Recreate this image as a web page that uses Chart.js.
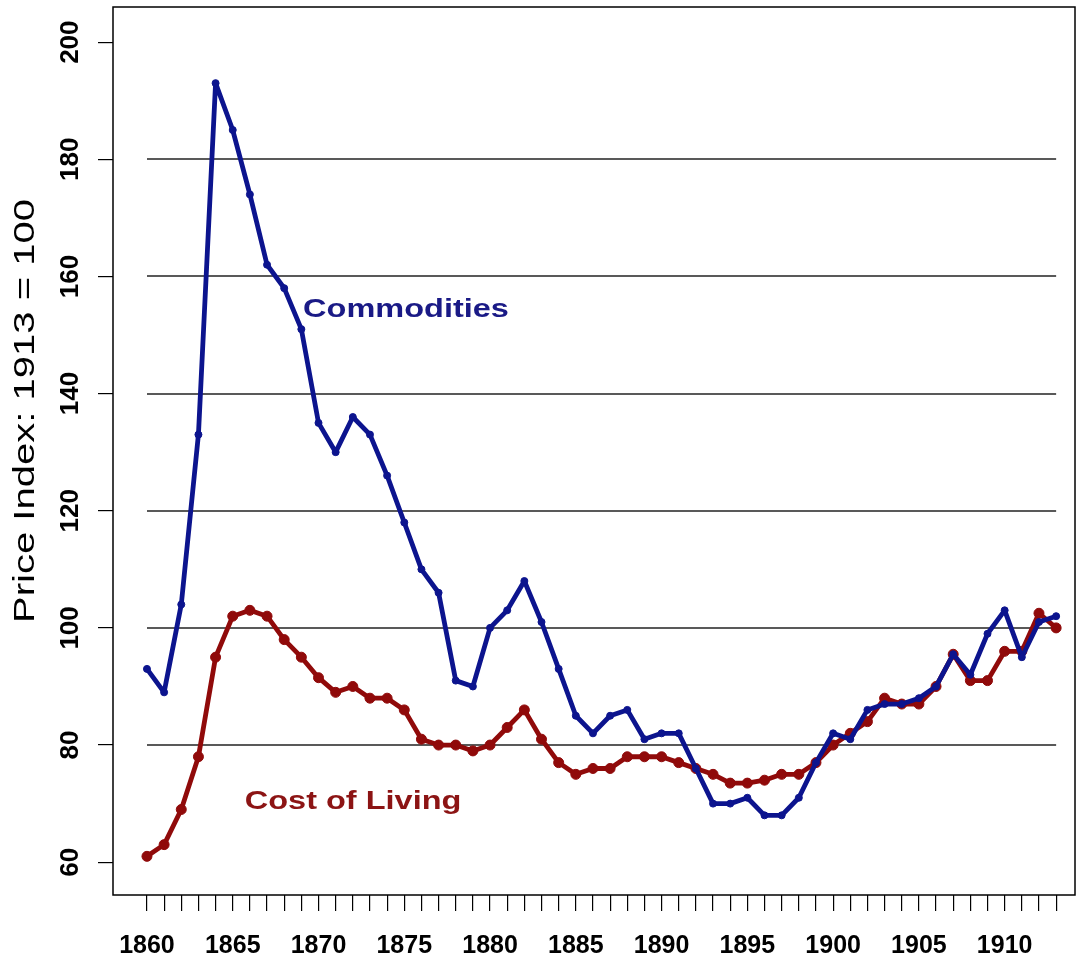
<!DOCTYPE html>
<html>
<head>
<meta charset="utf-8">
<script src="https://cdn.jsdelivr.net/npm/chart.js@4/dist/chart.umd.min.js"></script>
<style>
  html, body { margin: 0; padding: 0; background: #fff; }
  #wrap { position: relative; width: 1086px; height: 965px; }
</style>
</head>
<body>
<div id="wrap"><canvas id="myChart"></canvas></div>
<script>
// years 1860..1913
var years = [];
for (var yr = 1860; yr <= 1913; yr++) years.push(yr);

var commodities = [93, 89, 104, 133, 193, 185, 174, 162, 158, 151,
  135, 130, 136, 133, 126, 118, 110, 106, 91, 90,
  100, 103, 108, 101, 93, 85, 82, 85, 86, 81,
  82, 82, 76, 70, 70, 71, 68, 68, 71, 77,
  82, 81, 86, 87, 87, 88, 90, 95.5, 92, 99,
  103, 95, 101, 102];

var costOfLiving = [61, 63, 69, 78, 95, 102, 103, 102, 98, 95,
  91.5, 89, 90, 88, 88, 86, 81, 80, 80, 79,
  80, 83, 86, 81, 77, 75, 76, 76, 78, 78,
  78, 77, 76, 75, 73.5, 73.5, 74, 75, 75, 77,
  80, 82, 84, 88, 87, 87, 90, 95.5, 91, 91,
  96, 96, 102.5, 100];

var yTicks = [60, 80, 100, 120, 140, 160, 180, 200];
var gridValues = [80, 100, 120, 140, 160, 180];
var xLabelEvery = 5;

var blue = "#0c148e";
var red = "#900a0a";
var fontFam = "'Liberation Sans', Arial, sans-serif";

// labels inside the plot (year, value)
var notes = [
  {text: "Commodities", x: 1869.1, y: 154.3, color: "#1a1a86"},
  {text: "Cost of Living", x: 1865.7, y: 70.3, color: "#8c1414"}
];

var xy = function(arr){
  return arr.map(function(v, i){ return {x: years[i], y: v}; });
};

var decor = {
  id: "decor",
  beforeDatasetsDraw: function(chart){
    var ctx = chart.ctx, a = chart.chartArea, x = chart.scales.x, y = chart.scales.y;
    ctx.save();
    ctx.strokeStyle = "#222";
    ctx.lineWidth = 1.5;
    var x0 = x.getPixelForValue(years[0]);
    var x1 = x.getPixelForValue(years[years.length - 1]);
    gridValues.forEach(function(v){
      var py = Math.round(y.getPixelForValue(v));
      ctx.beginPath();
      ctx.moveTo(x0, py);
      ctx.lineTo(x1, py);
      ctx.stroke();
    });
    ctx.strokeStyle = "#000";
    ctx.strokeRect(a.left, a.top, a.right - a.left, a.bottom - a.top);
    ctx.restore();
  },
  afterDraw: function(chart){
    var ctx = chart.ctx, x = chart.scales.x, y = chart.scales.y;
    ctx.save();
    // y tick labels, rotated
    ctx.fillStyle = "#000";
    ctx.font = "bold 26px " + fontFam;
    ctx.textAlign = "center";
    ctx.textBaseline = "middle";
    yTicks.forEach(function(v){
      ctx.save();
      ctx.translate(71, y.getPixelForValue(v));
      ctx.rotate(-Math.PI / 2);
      ctx.fillText(String(v), 0, 0);
      ctx.restore();
    });
    // y title
    ctx.save();
    ctx.font = "29px " + fontFam;
    ctx.translate(26, 411);
    ctx.rotate(-Math.PI / 2);
    ctx.scale(1.38, 1);
    ctx.fillText("Price Index: 1913 = 100", 0, 0);
    ctx.restore();
    // notes
    ctx.font = "bold 25px " + fontFam;
    ctx.textAlign = "left";
    notes.forEach(function(n){
      ctx.save();
      ctx.fillStyle = n.color;
      ctx.translate(x.getPixelForValue(n.x), y.getPixelForValue(n.y));
      ctx.scale(1.3, 1);
      ctx.fillText(n.text, 0, 0);
      ctx.restore();
    });
    ctx.restore();
  }
};

new Chart("myChart", {
  type: "line",
  data: {
    datasets: [{
      label: "Commodities",
      data: xy(commodities),
      borderColor: blue,
      backgroundColor: blue,
      borderWidth: 4.8,
      borderJoinStyle: "round",
      borderCapStyle: "round",
      pointRadius: 3.5,
      pointBorderWidth: 1,
      tension: 0,
      fill: false
    }, {
      label: "Cost of Living",
      data: xy(costOfLiving),
      borderColor: red,
      backgroundColor: red,
      borderWidth: 4.8,
      borderJoinStyle: "round",
      borderCapStyle: "round",
      pointRadius: 5,
      pointBorderWidth: 1,
      tension: 0,
      fill: false
    }]
  },
  options: {
    responsive: true,
    maintainAspectRatio: false,
    animation: false,
    devicePixelRatio: 1,
    layout: { padding: { top: 7, right: 11, left: 0, bottom: 0 } },
    plugins: { legend: { display: false }, tooltip: { enabled: false } },
    scales: {
      x: {
        type: "linear",
        position: "bottom",
        min: 1858.02,
        max: 1914.1,
        afterBuildTicks: function(s){ s.ticks = years.map(function(v){ return {value: v}; }); },
        afterFit: function(s){ s.height = 70; },
        grid: { drawOnChartArea: false, drawTicks: true, tickLength: 16, color: "#000", lineWidth: 1.2 },
        border: { display: false },
        ticks: {
          autoSkip: false,
          maxRotation: 0,
          minRotation: 0,
          padding: 20,
          color: "#000",
          font: { family: fontFam, size: 25, weight: "bold" },
          callback: function(v){ return (v % xLabelEvery === 0 && v <= 1910) ? String(v) : ""; }
        }
      },
      y: {
        type: "linear",
        position: "left",
        min: 54.4,
        max: 206,
        afterBuildTicks: function(s){ s.ticks = yTicks.map(function(v){ return {value: v}; }); },
        afterFit: function(s){ s.width = 113; },
        grid: { drawOnChartArea: false, drawTicks: true, tickLength: 15, color: "#000", lineWidth: 1.2 },
        border: { display: false },
        ticks: { display: false }
      }
    }
  },
  plugins: [decor]
});
</script>
</body>
</html>
